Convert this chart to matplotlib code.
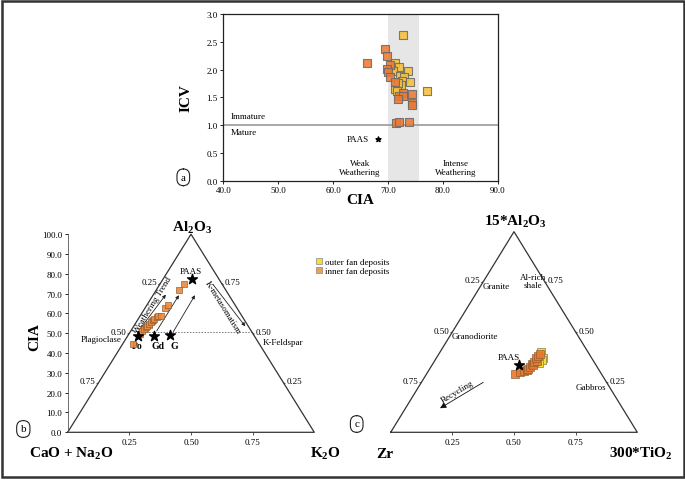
import matplotlib
matplotlib.use('Agg')
import matplotlib.pyplot as plt
from matplotlib.patches import Rectangle
from matplotlib.lines import Line2D
import numpy as np

plt.rcParams['font.family'] = ['Liberation Serif', 'DejaVu Serif']
plt.rcParams['mathtext.fontset'] = 'custom'
plt.rcParams['mathtext.rm'] = 'Liberation Serif'
plt.rcParams['mathtext.bf'] = 'Liberation Serif:bold'
plt.rcParams['mathtext.it'] = 'Liberation Serif:italic'

# ---------------- data ----------------
# panel a: CIA vs ICV
a_outer_cia = [72.7, 71.3, 72.1, 71.0, 73.6, 72.2, 73.0, 72.6, 74.0, 72.4, 71.3, 71.6, 77.2, 71.8]
a_outer_icv = [2.63, 2.12, 2.05, 1.98, 1.97, 1.88, 1.87, 1.80, 1.77, 1.72, 1.65, 1.62, 1.61, 1.75]
a_inner_cia = [69.5, 69.8, 66.2, 70.4, 69.9, 70.1, 70.4, 71.2, 72.7, 74.3, 72.0, 72.8, 71.8, 74.3, 74.3, 71.4, 72.1, 73.9]
a_inner_icv = [2.37, 2.25, 2.12, 2.09, 2.01, 1.95, 1.86, 1.77, 1.58, 1.56, 1.53, 1.53, 1.47, 1.39, 1.36, 1.04, 1.05, 1.05]
a_paas = (68.2, 0.75)
a_xticks = [40, 50, 60, 70, 80, 90]
a_yticks = [0.0, 0.5, 1.0, 1.5, 2.0, 2.5, 3.0]

# panel b: A-CN-K ternary (CIA = Al2O3 apex %, K2O fraction)
b_inner_cia = [44.7, 49.7, 50.9, 52.3, 53.1, 53.9, 54.8, 55.7, 56.5, 57.3, 58.2, 58.5, 58.9, 62.8, 64.1, 72.0, 74.9]
b_inner_k2o = [0.043, 0.045, 0.048, 0.048, 0.050, 0.054, 0.056, 0.060, 0.063, 0.064, 0.070, 0.075, 0.083, 0.080, 0.088, 0.091, 0.098]
b_outer_cia = [52.0, 54.4, 56.0]
b_outer_k2o = [0.052, 0.057, 0.061]
b_ref_names = ['Po', 'Gd', 'G', 'PAAS']
b_ref_cia = [48.8, 48.6, 48.9, 77.3]
b_ref_k2o = [0.042, 0.107, 0.171, 0.117]
b_yticks = [0, 10, 20, 30, 40, 50, 60, 70, 80, 90, 100]

# panel c: Zr - 15*Al2O3 - 300*TiO2 ternary (fractions)
c_inner_al = [0.291, 0.299, 0.306, 0.312, 0.318, 0.328, 0.340, 0.336, 0.352, 0.357, 0.368, 0.382, 0.392]
c_inner_ti = [0.3585, 0.3745, 0.387, 0.396, 0.399, 0.401, 0.402, 0.410, 0.405, 0.4135, 0.406, 0.407, 0.409]
c_outer_al = [0.402, 0.372, 0.360, 0.346]
c_outer_ti = [0.407, 0.432, 0.432, 0.427]
c_paas = (0.335, 0.3525)   # (Al, Ti)

edge_ticks = [0.25, 0.50, 0.75]

# ---------------- styles ----------------
YEL_A = '#f5c13a'
ORA_A = '#eb7a34'
YEL = '#f2df3a'
ORA = '#ee8a3e'
EDGE = '#6a6a6a'
W, H = 685, 481

def fx(x):
    return x / W

def fy(y):
    return 1 - y / H

fig = plt.figure(figsize=(W / 100, H / 100), dpi=100)

# outer frame
fig.patches.append(Rectangle((fx(1.5), fy(478)), fx(682) - fx(0), fy(1.5) - fy(478),
                             transform=fig.transFigure, fill=False, ec='#333333', lw=1.8))

# ---------------- panel a ----------------
axa = fig.add_axes([fx(223.3), fy(181.7), fx(497.7) - fx(223.3), fy(15) - fy(181.7)])
axa.set_xlim(40, 90)
axa.set_ylim(0, 3)
axa.axvspan(70, 75.6, color='#e6e6e6', zorder=0, lw=0)
axa.axhline(1.0, color='#9a9a9a', lw=1.2, zorder=1)
axa.scatter(a_outer_cia, a_outer_icv, marker='s', s=38, c=YEL_A, edgecolors=EDGE,
            linewidths=0.8, alpha=0.88, zorder=3)
axa.scatter(a_inner_cia, a_inner_icv, marker='s', s=38, c=ORA_A, edgecolors=EDGE,
            linewidths=0.8, alpha=0.88, zorder=3)
axa.scatter([a_paas[0]], [a_paas[1]], marker='*', s=14, c='black', zorder=4)
axa.set_xticks(a_xticks)
axa.set_xticklabels([f'{v:.1f}' for v in a_xticks])
axa.set_yticks(a_yticks)
axa.set_yticklabels([f'{v:.1f}' for v in a_yticks])
axa.tick_params(labelsize=6.5, length=2.5, width=0.6, pad=1.5, direction='out')
for s in axa.spines.values():
    s.set_linewidth(0.9)
    s.set_color('#222222')
axa.text(41.4, 1.17, 'Immature', fontsize=6.5, ha='left', va='center')
axa.text(41.4, 0.87, 'Mature', fontsize=6.5, ha='left', va='center')
axa.text(66.6, 0.75, 'PAAS', fontsize=6.5, ha='right', va='center')
axa.text(64.9, 0.24, 'Weak\nWeathering', fontsize=6.5, ha='center', va='center', linespacing=1.1)
axa.text(82.4, 0.24, 'Intense\nWeathering', fontsize=6.5, ha='center', va='center', linespacing=1.1)
fig.text(fx(186), fy(98), 'ICV', rotation=90, fontsize=11, fontweight='bold', ha='center', va='center')
fig.text(fx(360.5), fy(200), 'CIA', fontsize=11, fontweight='bold', ha='center', va='center')

def circ_label(x, y, t):
    fig.text(fx(x), fy(y), t, fontsize=8, ha='center', va='center',
             bbox=dict(boxstyle='round,pad=0.35,rounding_size=0.6', fc='white', ec='#222222', lw=0.8))

circ_label(183.3, 178.3, 'a')

# ---------------- triangle helpers ----------------
def draw_triangle(ax, top):
    ax.plot([0, 1, 0.5, 0], [0, 0, top, 0], color='#333333', lw=0.9, clip_on=False, zorder=2)
    for h in edge_ticks:
        xl = h / 2
        ax.annotate(f'{1 - h:.2f}', xy=(xl, h * top), xytext=(-2, 1), textcoords='offset points',
                    ha='right', va='center', fontsize=6.5, annotation_clip=False)
        ax.annotate('', xy=(xl, h * top), xytext=(-3, -1.5), textcoords='offset points',
                    arrowprops=dict(arrowstyle='-', lw=0.6, color='#333333'), annotation_clip=False)
        xr = 1 - h / 2
        ax.annotate(f'{h:.2f}', xy=(xr, h * top), xytext=(2, 1), textcoords='offset points',
                    ha='left', va='center', fontsize=6.5, annotation_clip=False)
        ax.annotate('', xy=(xr, h * top), xytext=(3, -1.5), textcoords='offset points',
                    arrowprops=dict(arrowstyle='-', lw=0.6, color='#333333'), annotation_clip=False)
    ax.set_xlim(0, 1)
    ax.set_ylim(0, top)
    ax.set_xticks(edge_ticks)
    ax.set_xticklabels([f'{v:.2f}' for v in edge_ticks])
    ax.tick_params(axis='x', labelsize=6.5, length=2, width=0.6, pad=2, direction='out', color='#333333')
    ax.spines['top'].set_visible(False)
    ax.spines['right'].set_visible(False)
    ax.spines['bottom'].set_visible(False)
    ax.patch.set_visible(False)

# ---------------- panel b ----------------
axb = fig.add_axes([fx(67.7), fy(433.3), fx(314.3) - fx(67.7), fy(235.2) - fy(433.3)])
draw_triangle(axb, 100)
axb.spines['left'].set_linewidth(0.6)
axb.spines['left'].set_color('#555555')
axb.set_yticks(b_yticks)
axb.set_yticklabels([f'{v:.1f}' for v in b_yticks])
axb.tick_params(axis='y', labelsize=6.5, length=2.5, width=0.6, pad=1.5, direction='out')

bx_in = [k + c / 200 for k, c in zip(b_inner_k2o, b_inner_cia)]
bx_out = [k + c / 200 for k, c in zip(b_outer_k2o, b_outer_cia)]
bx_ref = [k + c / 200 for k, c in zip(b_ref_k2o, b_ref_cia)]

# dotted 50% line
axb.plot([0.27, 0.747], [50.6, 50.6], color='#777777', lw=0.7, ls=(0, (1.5, 1.5)), zorder=1)

# weathering arrows
arrow_kw = dict(arrowstyle='-|>', mutation_scale=5, lw=0.6, color='#222222', shrinkA=0, shrinkB=0)
for (x0, y0, x1, y1) in [(0.292, 52.0, 0.398, 69.5), (0.361, 51.2, 0.451, 69.2), (0.428, 50.7, 0.516, 69.2)]:
    axb.annotate('', xy=(x1, y1), xytext=(x0, y0), arrowprops=arrow_kw, zorder=3)
axb.annotate('', xy=(0.72, 53.5), xytext=(0.59, 74.5), arrowprops=arrow_kw, zorder=3)

axb.scatter(bx_out, b_outer_cia, marker='s', s=16, c=YEL, edgecolors='#8a6a40', linewidths=0.5, zorder=4)
axb.scatter(bx_in, b_inner_cia, marker='s', s=16, c=ORA, edgecolors='#8a5a30', linewidths=0.5,
            alpha=0.92, zorder=4)
axb.scatter(bx_ref, b_ref_cia, marker='*', s=55, c='black', zorder=5)

def angle_of(ax, x0, y0, x1, y1):
    p0 = ax.transData.transform((x0, y0))
    p1 = ax.transData.transform((x1, y1))
    return np.degrees(np.arctan2(p1[1] - p0[1], p1[0] - p0[0]))

ang_l = angle_of(axb, 0, 0, 0.5, 100)
ang_r = angle_of(axb, 0.5, 100, 1, 0) + 180
axb.text(0.343, 64.5, 'Weathering Trend', rotation=ang_l, fontsize=6.5, ha='center', va='center',
         rotation_mode='anchor', zorder=6)
axb.text(0.628, 63.5, 'K-metasomatism', rotation=ang_r - 180, fontsize=6.5, ha='center', va='center',
         rotation_mode='anchor', zorder=6)
axb.text(bx_ref[3] - 0.006, 81.5, 'PAAS', fontsize=6.5, ha='center', va='center')
axb.text(0.219, 47.0, 'Plagioclase', fontsize=6.5, ha='right', va='center')
axb.text(0.281, 44.0, 'Po', fontsize=7, fontweight='bold', ha='center', va='center', zorder=3)
axb.text(0.366, 44.0, 'Gd', fontsize=7, fontweight='bold', ha='center', va='center')
axb.text(0.431, 44.0, 'G', fontsize=7, fontweight='bold', ha='center', va='center')
axb.text(0.874, 45.4, 'K-Feldspar', fontsize=6.5, ha='center', va='center')

fig.text(fx(35), fy(336.7), 'CIA', rotation=90, fontsize=11, fontweight='bold', ha='center', va='center')
fig.text(fx(191.7), fy(231.5), r'Al$_{\mathbf{2}}$O$_{\mathbf{3}}$', fontsize=11, fontweight='bold',
         ha='center', va='baseline')
fig.text(fx(29.3), fy(458), r'CaO + Na$_{\mathbf{2}}$O', fontsize=11, fontweight='bold',
         ha='left', va='baseline')
fig.text(fx(310), fy(458), r'K$_{\mathbf{2}}$O', fontsize=11, fontweight='bold', ha='left', va='baseline')
circ_label(23.3, 430, 'b')

# legend
handles = [Line2D([], [], marker='s', ls='', markersize=4.5, markerfacecolor=YEL, markeredgecolor='#888888',
                  markeredgewidth=0.5, label='outer fan deposits'),
           Line2D([], [], marker='s', ls='', markersize=4.5, markerfacecolor='#f0a055', markeredgecolor='#888888',
                  markeredgewidth=0.5, label='inner fan deposits')]
fig.legend(handles=handles, loc='upper left', bbox_to_anchor=(fx(315.5), fy(258.5)), frameon=False,
           fontsize=6.5, handlelength=0.7, handletextpad=0.35, labelspacing=0.12, borderpad=0,
           borderaxespad=0)

# ---------------- panel c ----------------
axc = fig.add_axes([fx(390.7), fy(433.3), fx(637.3) - fx(390.7), fy(232.7) - fy(433.3)])
draw_triangle(axc, 1.0)
axc.spines['left'].set_visible(False)
axc.tick_params(axis='y', left=False, labelleft=False)

cx_in = [t + a / 2 for t, a in zip(c_inner_ti, c_inner_al)]
cx_out = [t + a / 2 for t, a in zip(c_outer_ti, c_outer_al)]
axc.scatter(cx_out, c_outer_al, marker='s', s=26, c=YEL, edgecolors='#8a7a40', linewidths=0.5, zorder=3)
axc.scatter(cx_in, c_inner_al, marker='s', s=26, c='#e9782c', edgecolors='#8a5a30', linewidths=0.5,
            alpha=0.9, zorder=4)
axc.scatter([c_paas[1] + c_paas[0] / 2], [c_paas[0]], marker='*', s=55, c='black', zorder=5)

axc.annotate('', xy=(0.2, 0.12), xytext=(0.375, 0.249),
             arrowprops=dict(arrowstyle='-|>', mutation_scale=9, lw=0.6, color='#111111',
                             shrinkA=0, shrinkB=0))
ang_rec = angle_of(axc, 0.2, 0.12, 0.375, 0.249)
axc.text(0.272, 0.205, 'Recycling', rotation=ang_rec, fontsize=6.5, ha='center', va='center',
         rotation_mode='anchor')
axc.text(0.426, 0.728, 'Granite', fontsize=6.5, ha='center', va='center')
axc.text(0.576, 0.756, 'Al-rich\nshale', fontsize=6.5, ha='center', va='center', linespacing=1.0)
axc.text(0.343, 0.479, 'Granodiorite', fontsize=6.5, ha='center', va='center')
axc.text(0.813, 0.224, 'Gabbros', fontsize=6.5, ha='center', va='center')
axc.text(0.477, 0.374, 'PAAS', fontsize=6.5, ha='center', va='center')

fig.text(fx(515.8), fy(226), r'15*Al$_{\mathbf{2}}$O$_{\mathbf{3}}$', fontsize=11, fontweight='bold',
         ha='center', va='baseline')
fig.text(fx(376), fy(458), 'Zr', fontsize=11, fontweight='bold', ha='left', va='baseline')
fig.text(fx(609.3), fy(458), r'300*TiO$_{\mathbf{2}}$', fontsize=11, fontweight='bold', ha='left', va='baseline')
circ_label(356.7, 425, 'c')

fig.savefig('out.png', dpi=100)
